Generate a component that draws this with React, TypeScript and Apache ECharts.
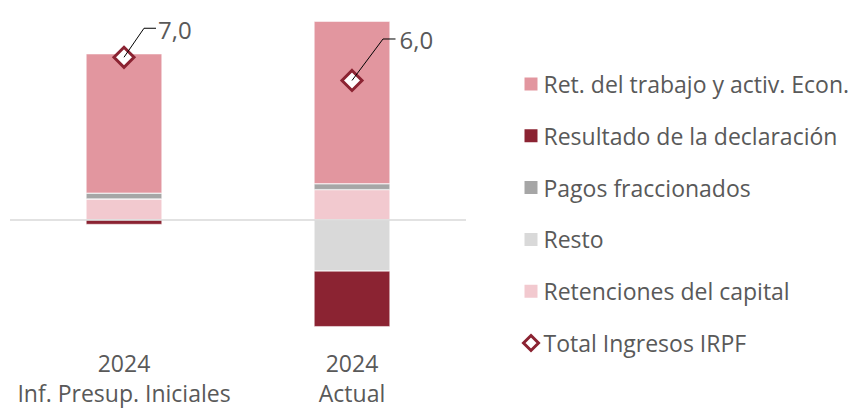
import React, { useEffect, useRef } from "react";
import * as echarts from "echarts";

const categories = ["2024\nInf. Presup. Iniciales", "2024\nActual"];
const retTrabajo = [6.0, 7.0];
const resultadoDeclaracion = [-0.2, -2.4];
const pagosFraccionados = [0.25, 0.25];
const resto = [0, -2.2];
const retencionesCapital = [0.9, 1.3];
const totalIngresos = [7.0, 6.0];
const totalLabels = ["7,0", "6,0"];

const NAMES = {
  ret: "Ret. del trabajo y activ. Econ.",
  res: "Resultado de la declaración",
  pag: "Pagos fraccionados",
  resto: "Resto",
  cap: "Retenciones del capital",
  tot: "Total Ingresos IRPF",
};

const COLORS = {
  ret: "#E2969F",
  res: "#8B2332",
  pag: "#A6A6A6",
  resto: "#D9D9D9",
  cap: "#F2C9CF",
};

// leader-line layout per label: [dx, dy, horizontal length, text gap]
const leaderLayout = [
  [20, -29, 12, 2],
  [31, -41.5, 12.5, 4],
];

const FONT = "'Open Sans', Lato, sans-serif";
const TEXT_COLOR = "#595959";

export default function App() {
  const ref = useRef<HTMLDivElement>(null);
  useEffect(() => {
    if (!ref.current) return;
    const chart = echarts.init(ref.current, undefined, { renderer: "svg" });
    const barCommon = {
      type: "bar" as const,
      stack: "total",
      barWidth: 76,
      itemStyle: { borderColor: "#ffffff", borderWidth: 0.5 },
    };
    chart.setOption({
      animation: false,
      textStyle: { fontFamily: FONT },
      grid: { left: 10, width: 456, top: 10.8, height: 329, containLabel: false },
      legend: {
        orient: "vertical",
        left: 517,
        top: 67,
        itemWidth: 15,
        itemHeight: 15,
        itemGap: 27.8,
        textStyle: { fontSize: 23, color: TEXT_COLOR, fontFamily: FONT, lineHeight: 24 },
        data: [
          { name: NAMES.ret, icon: "rect" },
          { name: NAMES.res, icon: "rect" },
          { name: NAMES.pag, icon: "rect" },
          { name: NAMES.resto, icon: "rect" },
          { name: NAMES.cap, icon: "rect" },
          { name: NAMES.tot, icon: "diamond", itemStyle: { color: "#ffffff", borderColor: COLORS.res, borderWidth: 3 } },
        ],
      },
      xAxis: {
        type: "category",
        data: categories,
        axisLine: { show: false },
        axisTick: { show: false },
        axisLabel: {
          interval: 0,
          margin: 12,
          fontSize: 23,
          lineHeight: 30,
          color: TEXT_COLOR,
          fontFamily: FONT,
        },
      },
      yAxis: {
        type: "value",
        min: -5,
        max: 9,
        show: false,
        splitLine: { show: false },
      },
      series: [
        {
          ...barCommon,
          name: NAMES.cap,
          data: retencionesCapital,
          itemStyle: { ...barCommon.itemStyle, color: COLORS.cap },
          markLine: {
            silent: true,
            symbol: "none",
            label: { show: false },
            lineStyle: { color: "#D9D9D9", width: 1.6, type: "solid" },
            data: [{ yAxis: 0 }],
          },
        },
        { ...barCommon, name: NAMES.resto, data: resto, itemStyle: { ...barCommon.itemStyle, color: COLORS.resto } },
        { ...barCommon, name: NAMES.pag, data: pagosFraccionados, itemStyle: { ...barCommon.itemStyle, color: COLORS.pag } },
        { ...barCommon, name: NAMES.ret, data: retTrabajo, itemStyle: { ...barCommon.itemStyle, color: COLORS.ret } },
        { ...barCommon, name: NAMES.res, data: resultadoDeclaracion, itemStyle: { ...barCommon.itemStyle, color: COLORS.res } },
        {
          type: "scatter",
          name: NAMES.tot,
          data: totalIngresos,
          symbol: "diamond",
          symbolSize: 20,
          z: 5,
          itemStyle: { color: "#ffffff", borderColor: COLORS.res, borderWidth: 3, opacity: 1 },
        },
        {
          type: "custom",
          name: "labels",
          z: 6,
          silent: true,
          data: totalIngresos.map((v, i) => [i, v]),
          encode: { x: 0, y: 1 },
          renderItem: (params: any, api: any) => {
            const i = params.dataIndex;
            const p = api.coord([api.value(0), api.value(1)]);
            const [dx, dy, len, gap] = leaderLayout[i];
            const x1 = p[0] + dx;
            const y1 = p[1] + dy;
            const x2 = x1 + len;
            return {
              type: "group",
              children: [
                {
                  type: "polyline",
                  shape: { points: [[p[0], p[1]], [x1, y1], [x2, y1]] },
                  style: { stroke: "#000000", lineWidth: 1, fill: "none" },
                },
                {
                  type: "text",
                  style: {
                    text: totalLabels[i],
                    x: x2 + gap,
                    y: y1 + 1,
                    fill: TEXT_COLOR,
                    font: `24px ${FONT}`,
                    verticalAlign: "middle",
                    align: "left",
                  },
                },
              ],
            };
          },
        },
      ],
    });
    return () => chart.dispose();
  }, []);
  return (
    <div
      ref={ref}
      style={{ position: "fixed", left: 0, top: 0, width: 862, height: 408, background: "#ffffff" }}
    />
  );
}
